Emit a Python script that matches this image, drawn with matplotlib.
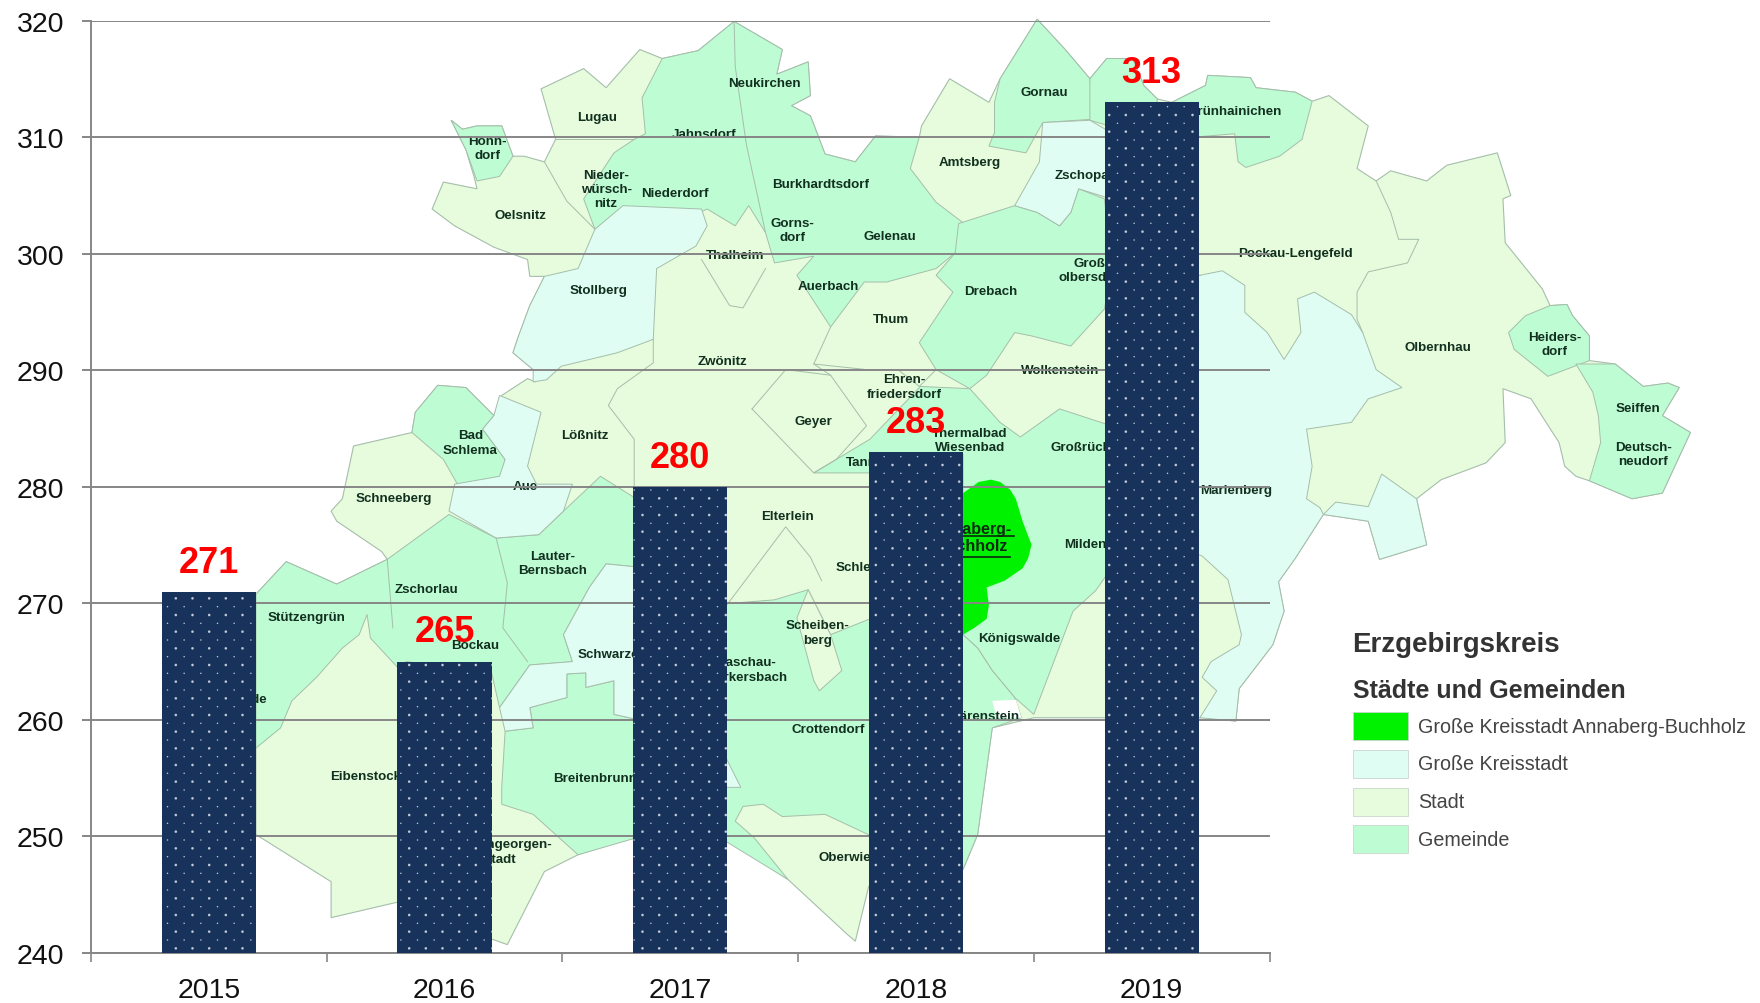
import numpy as np
import matplotlib
matplotlib.use("Agg")
import matplotlib.pyplot as plt
import matplotlib.hatch as mhatch
from matplotlib.path import Path
from matplotlib.patches import Polygon, Rectangle

# ---- chart data ----
years = ["2015", "2016", "2017", "2018", "2019"]
values = [271, 265, 280, 283, 313]
y_ticks = [240, 250, 260, 270, 280, 290, 300, 310, 320]

# ---- background map artwork (drawn on a 1568x894 canvas, not data) ----
STADT, GEMEINDE, KREISSTADT, ANNABERG = "#E6FCDC", "#BEFCD4", "#E0FDF4", "#00F200"
BORDER = "#A5BEAB"

outline = [(402,108),(412,116),(425,113),(447,113),(457,140),(467,140),(485,145),(495,125),(482,80),(520,62),
 (540,79),(570,45),(590,53),(622,46),(654,20),(697,45),(692,67),(720,56),(722,86),(705,95),(722,104),(735,138),
 (762,145),(780,122),(819,123),(821,113),(846,71),(881,92),(891,71),(924,18),(949,45),(971,71),(986,53),(1009,53),
 (1019,77),(1031,89),(1044,92),(1074,77),(1076,68),(1114,70),(1119,79),(1154,83),(1169,91),(1184,86),(1219,113),
 (1209,151),(1226,162),(1239,153),(1271,162),(1289,148),(1334,137),(1346,175),(1339,178),(1341,217),(1374,258),
 (1381,273),(1396,272),(1401,282),(1416,300),(1416,322),(1439,325),(1464,345),(1486,342),(1496,346),(1481,371),
 (1506,386),(1481,440),(1454,445),(1416,429),(1404,425),(1394,416),(1389,395),(1364,356),(1339,347),(1341,395),
 (1324,413),(1284,428),(1262,445),(1271,486),(1229,499),(1219,465),(1179,459),(1154,498),(1139,519),(1144,545),
 (1134,575),(1104,614),(1101,643),(1074,640),(921,640),(884,649),(871,744),(858,775),(774,790),(762,839),(755,833),
 (702,784),(647,746),(565,746),(515,762),(485,777),(452,842),(435,836),(355,804),(295,818),(295,786),(228,744),
 (228,530),(255,501),(300,521),(345,499),(340,492),(300,465),(295,456),(305,445),(315,398),(367,386),(370,368),
 (390,344),(415,346),(440,371),(447,353),(470,338),(477,341),(475,330),(457,315),(462,300),(472,273),(485,247),
 (472,247),(470,232),(440,221),(405,202),(385,187),(395,163),(425,169),(422,157),(415,134)]

gemeinde = [
 [(402,108),(412,116),(425,113),(447,113),(457,140),(445,158),(425,162),(415,134)],
 [(590,53),(622,46),(654,20),(697,45),(692,67),(720,56),(722,86),(705,95),(722,104),(735,138),(762,145),(780,122),
  (819,123),(811,151),(834,181),(859,200),(851,226),(834,240),(790,252),(770,252),(740,292),(710,246),(725,229),
  (690,235),(682,208),(667,184),(655,202),(630,187),(605,199),(565,187),(550,190),(530,205),(520,178),(547,137),
  (565,125),(575,120),(572,88)],
 [(854,200),(904,184),(924,190),(944,202),(954,190),(961,169),(984,178),(990,240),(984,276),(954,309),(919,300),
  (904,297),(879,335),(864,347),(834,330),(819,306),(849,261),(834,246),(851,226)],
 [(864,347),(891,377),(909,390),(944,365),(990,380),(990,507),(976,527),(956,545),(921,637),(904,622),(884,598),
  (871,578),(858,566),(858,405),(775,422),(725,422),(775,392),(820,345)],
 [(858,566),(871,578),(884,598),(904,622),(910,640),(884,649),(871,744),(858,775),(800,720),(800,560)],
 [(891,71),(924,18),(949,45),(971,71),(974,107),(929,110),(914,137),(881,131),(886,119),(886,92)],
 [(971,71),(986,53),(1009,53),(1019,77),(1031,89),(1030,125),(971,108)],
 [(1044,92),(1074,77),(1076,68),(1114,70),(1119,79),(1154,83),(1169,91),(1160,125),(1140,140),(1110,150),(1103,145),
  (1100,120),(1040,125)],
 [(1344,297),(1359,282),(1381,273),(1396,272),(1401,282),(1416,300),(1416,322),(1379,336),(1349,312)],
 [(1404,325),(1439,325),(1464,345),(1486,342),(1496,346),(1481,371),(1506,386),(1481,440),(1454,445),(1416,429),
  (1426,395),(1424,371),(1419,350)],
 [(367,386),(370,368),(390,344),(415,346),(440,371),(430,383),(450,410),(445,434),(415,445),(395,410)],
 [(228,530),(255,501),(300,521),(345,499),(400,459),(442,480),(480,477),(502,456),(535,425),(570,447),(570,506),
  (540,503),(525,524),(502,566),(510,590),(472,593),(445,631),(438,600),(362,590),(355,596),(330,569),(327,548),
  (320,566),(305,578),(282,604),(260,625),(250,649),(228,667)],
 [(450,652),(475,649),(472,631),(505,622),(505,601),(522,600),(522,613),(547,607),(547,637),(570,642),(570,746),
  (515,762),(475,726),(447,717),(447,702)],
 [(640,539),(690,535),(720,526),(740,566),(780,550),(780,747),(735,726),(697,728),(680,717),(662,719),(655,732),
  (672,747),(702,784),(640,746)],
]
kreisstadt = [
 [(555,184),(625,187),(630,202),(620,220),(585,240),(582,303),(550,315),(500,327),(487,339),(475,341),(475,330),
  (457,315),(462,300),(472,273),(485,247),(515,240),(530,205)],
 [(445,353),(482,368),(470,416),(478,432),(510,432),(502,456),(480,477),(442,480),(400,456),(405,432),(445,425),
  (450,410),(430,383),(440,371)],
 [(570,506),(540,503),(525,524),(502,566),(510,590),(472,593),(445,631),(450,652),(475,649),(472,631),(505,622),
  (505,601),(522,600),(522,613),(547,607),(547,637),(570,642)],
 [(929,110),(971,108),(990,119),(990,178),(961,169),(954,190),(944,202),(924,190),(904,184),(926,145)],
 [(1030,246),(1069,246),(1089,242),(1109,255),(1109,279),(1129,297),(1144,321),(1159,297),(1156,267),(1171,261),
  (1204,281),(1214,297),(1226,330),(1249,346),(1219,356),(1204,377),(1164,383),(1169,416),(1164,445),(1176,453),
  (1179,459),(1154,498),(1139,519),(1144,545),(1134,575),(1104,614),(1101,643),(1069,640),(1084,616),(1071,604),
  (1079,590),(1104,575),(1106,566),(1094,517),(1071,496),(1030,480)],
 [(1231,423),(1262,445),(1271,486),(1229,499),(1219,465),(1179,459),(1190,448),(1219,452)],
 [(647,676),(660,702),(647,702)],
]
stadt_patch = [(720,526),(710,551),(725,607),(730,616),(750,598),(740,566)]
white_patch = [(884,625),(905,624),(910,640),(888,640)]
annaberg = [(858,440),(872,430),(883,428),(891,430),(900,437),(905,445),(911,465),(919,486),(916,498),(911,507),
            (895,518),(879,524),(881,540),(879,552),(868,560),(858,566)]
border_lines = [
 [(582,303),(582,324),(550,347),(542,362),(565,392),(565,447)],
 [(670,365),(700,330),(740,335),(772,380),(745,410),(725,422),(670,365)],
 [(625,232),(650,273),(662,275),(682,240)],
 [(485,145),(505,180),(530,205)],
 [(495,125),(565,125)],
 [(740,292),(725,325),(740,335)],
 [(834,330),(819,345),(800,330),(772,330),(725,325)],
 [(654,20),(655,60),(665,130),(682,208)],
 [(1069,246),(1030,246)],
 [(648,539),(700,470),(722,497),(732,518)],
 [(345,499),(350,560)],
 [(442,480),(452,520),(448,560),(470,590)],
 [(1226,162),(1239,190),(1246,214),(1264,214),(1254,235),(1219,243),(1209,261),(1209,285),(1214,297)],
]

map_labels = [
 ("Neukirchen",681,75,"center"),("Lugau",532,105,"center"),
 ("Hohn-\ndorf",434,133,"center"),("Nieder-\nwürsch-\nnitz",540,169,"center"),("Niederdorf",601,173,"center"),
 ("Oelsnitz",464,192,"center"),("Burkhardtsdorf",731,165,"center"),("Gorns-\ndorf",706,206,"center"),
 ("Gelenau",793,211,"center"),("Thalheim",655,228,"center"),("Stollberg",533,259,"center"),
 ("Auerbach",738,256,"center"),("Drebach",883,260,"center"),("Thum",794,285,"center"),("Zwönitz",644,322,"center"),
 ("Gornau",930,83,"center"),("Amtsberg",864,145,"center"),("Zschopau",940,157,"left"),
 ("Groß-\nolbersdorf",943,241,"left"),("Grünhainichen",1100,100,"center"),("Pockau-Lengefeld",1154,226,"center"),
 ("Olbernhau",1281,310,"center"),("Heiders-\ndorf",1385,307,"center"),("Seiffen",1459,364,"center"),
 ("Deutsch-\nneudorf",1464,405,"center"),("Wolkenstein",910,330,"left"),("Ehren-\nfriedersdorf",806,345,"center"),
 ("Geyer",725,376,"center"),("Thermalbad\nWiesenbad",864,393,"center"),("Großrückerswalde",936,399,"left"),
 ("Tannenberg",754,412,"left"),("Marienberg",1069,437,"left"),("Bad\nSchlema",419,395,"center"),
 ("Lößnitz",521,388,"center"),("Aue",468,434,"center"),("Schneeberg",351,444,"center"),("Elterlein",702,460,"center"),
 ("Schlettau",744,506,"left"),("Mildenau",948,485,"left"),("Lauter-\nBernsbach",492,502,"center"),
 ("Zschorlau",380,525,"center"),("Stützengrün",273,550,"center"),("Scheiben-\nberg",728,564,"center"),
 ("Königswalde",908,569,"center"),("Bockau",423,575,"center"),("Schwarzenberg",515,583,"left"),
 ("Raschau-\nMarkersbach",665,597,"center"),("Schönheide",238,623,"right"),
 ("Crottendorf",705,650,"left"),("Eibenstock",294,692,"left"),("Breitenbrunn",493,694,"left"),
 ("Johanngeorgen-\nstadt",492,759,"right"),("Oberwiesenthal",729,764,"left"),
]
# labels whose lower half the reference cuts off along a gridline
cut_labels = [("Jahnsdorf",627,120,"center",122.5),("Bärenstein",908,638,"right",641.5)]
legend_title = "Erzgebirgskreis"
legend_subtitle = "Städte und Gemeinden"
legend_items = ["Große Kreisstadt Annaberg-Buchholz", "Große Kreisstadt", "Stadt", "Gemeinde"]
legend_colors = [ANNABERG, KREISSTADT, STADT, GEMEINDE]


class StaggeredDots(mhatch.HatchPatternBase):
    """Staggered two-size dot pattern for the bars."""
    def __init__(self, hatch, density):
        self.on = hatch.count(".") > 0
        self.circle = Path.unit_circle()
        pts = []
        for r in range(12):
            y = (r + 0.2) / 12
            big = r % 2 == 0
            for c in range(6):
                x = (c + (0.55 if big else 0.05)) / 6
                pts.append((x, y, 0.012 if big else 0.0065))
        self.pts = pts
        self.num_vertices = len(pts) * len(self.circle.vertices) if self.on else 0

    def set_vertices_and_codes(self, vertices, codes):
        n = len(self.circle.vertices)
        for i, (x, y, r) in enumerate(self.pts):
            vertices[i * n:(i + 1) * n] = self.circle.vertices * r + (x, y)
            codes[i * n:(i + 1) * n] = self.circle.codes


mhatch._hatch_types[:] = [StaggeredDots]
plt.rcParams["hatch.linewidth"] = 0.1
plt.rcParams["font.family"] = ["Liberation Sans", "DejaVu Sans"]

W, H = 1760, 1004
fig = plt.figure(figsize=(W / 100, H / 100), dpi=100, facecolor="white")

# map canvas
mp = fig.add_axes([0, 0, 1, 1], zorder=0)
mp.set_xlim(0, 1568)
mp.set_ylim(894, 0)
mp.axis("off")

mp.add_patch(Polygon(outline, closed=True, fc=STADT, ec=BORDER, lw=0.8))
for poly in gemeinde:
    mp.add_patch(Polygon(poly, closed=True, fc=GEMEINDE, ec=BORDER, lw=0.7))
for poly in kreisstadt:
    mp.add_patch(Polygon(poly, closed=True, fc=KREISSTADT, ec=BORDER, lw=0.7))
mp.add_patch(Polygon(stadt_patch, closed=True, fc=STADT, ec=BORDER, lw=0.7))
mp.add_patch(Polygon(white_patch, closed=True, fc="white", ec="none"))
mp.add_patch(Polygon(annaberg, closed=True, fc=ANNABERG, ec="none"))
for line in border_lines:
    xs, ys = zip(*line)
    mp.plot(xs, ys, color=BORDER, lw=0.7, solid_joinstyle="round")

for text, x, y, ha in map_labels:
    mp.text(x, y, text, ha=ha, va="center", ma="center", fontsize=9.6, fontweight="bold",
            color="#12301F", linespacing=1.25)
for text, x, y, ha, cut in cut_labels:
    t = mp.text(x, y, text, ha=ha, va="center", fontsize=9.6, fontweight="bold", color="#12301F")
    t.set_clip_path(Rectangle((0, 0), 1568, cut, transform=mp.transData))
mp.text(866, 479, "Annaberg-\nBuchholz", ha="center", va="center", ma="center", fontsize=11.5,
        fontweight="bold", color="#0B2A12", linespacing=1.15)
mp.plot([840, 903], [478, 478], color="#0B2A12", lw=1.2)
mp.plot([840, 900], [497, 497], color="#0B2A12", lw=1.2)

# legend of the map
mp.text(1205, 574, legend_title, fontsize=20, fontweight="bold", color="#333333", va="center", ha="left")
mp.text(1205, 615, legend_subtitle, fontsize=18, fontweight="bold", color="#333333", va="center", ha="left")
box_top = [635, 668.5, 702.5, 735.5]
label_y = [648, 681, 715, 748]
for label, col, top, ly in zip(legend_items, legend_colors, box_top, label_y):
    mp.add_patch(Rectangle((1205, top), 49.5, 25, fc=col, ec="#C9D6CC", lw=0.6))
    mp.text(1263, ly, label, fontsize=14.2, color="#444444", va="center", ha="left")

# bar chart on top
L, R, T, B = 91, 1269.5, 21.8, 953.9
ax = fig.add_axes([L / W, 1 - B / H, (R - L) / W, (B - T) / H], zorder=1)
ax.patch.set_alpha(0)
x = np.arange(len(years))
ax.set_xlim(-0.5, len(years) - 0.5)
ax.set_ylim(y_ticks[0], y_ticks[-1])
ax.set_axisbelow(True)
bars = ax.bar(x, values, width=0.4, color="#17335B", edgecolor="#C3CCD9", linewidth=0, hatch=".", zorder=3)

GRID = "#868686"
ax.set_yticks(y_ticks)
ax.yaxis.grid(True, color=GRID, lw=1.4)
ax.xaxis.grid(False)
ax.set_xticks(np.arange(len(years) + 1) - 0.5)
ax.set_xticklabels([])
ax.set_xticks(x, minor=True)
ax.set_xticklabels(years, minor=True)
ax.tick_params(axis="x", which="major", length=6.5, width=1.2, color=GRID)
ax.tick_params(axis="x", which="minor", length=0, pad=17, labelsize=20.5, labelcolor="#111111")
ax.tick_params(axis="y", length=6.5, width=1.4, color=GRID, pad=12.5, labelsize=20.5, labelcolor="#111111")
for side in ("top", "right"):
    ax.spines[side].set_visible(False)
for side in ("left", "bottom"):
    ax.spines[side].set_color(GRID)
    ax.spines[side].set_linewidth(1.4)

for xi, v in zip(x, values):
    ax.annotate(str(v), (xi, v), xytext=(0, 14.5), textcoords="offset points", ha="center", va="baseline",
                fontsize=26, fontweight="bold", color="#FF0000", zorder=5, annotation_clip=False)

fig.savefig("out.png", dpi=100)
